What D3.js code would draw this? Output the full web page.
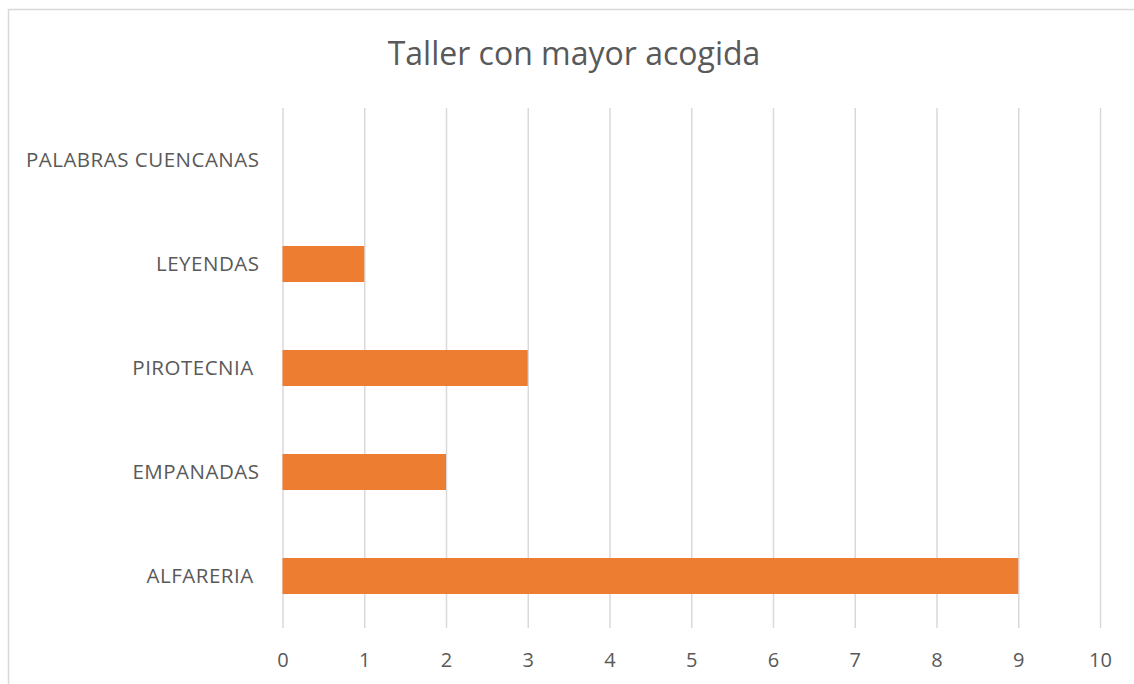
<!DOCTYPE html>
<html>
<head>
<meta charset="utf-8">
<script src="https://cdn.jsdelivr.net/npm/d3@7"></script>
<style>
  body { margin: 0; background: #fff; }
  text { font-family: "Open Sans", sans-serif; fill: #595959; }
</style>
</head>
<body>
<div id="chart"></div>
<script>
// categories top to bottom, as in the picture
const categories = ["PALABRAS CUENCANAS", "LEYENDAS", "PIROTECNIA ", "EMPANADAS", "ALFARERIA "];
const values = [0, 1, 3, 2, 9];
const xTicks = [0, 1, 2, 3, 4, 5, 6, 7, 8, 9, 10];

const width = 1134, height = 684;
const margin = {top: 108, right: 34, bottom: 56, left: 282.5};
const plotW = width - margin.left - margin.right;
const plotH = height - margin.top - margin.bottom;

const svg = d3.select("#chart").append("svg")
    .attr("width", width)
    .attr("height", height);

// chart frame
svg.append("rect")
    .attr("x", 8.5).attr("y", 9.5)
    .attr("width", 1140).attr("height", 700)
    .attr("fill", "none")
    .attr("stroke", "#d9d9d9")
    .attr("stroke-width", 1.5);

svg.append("text")
    .attr("x", 574)
    .attr("y", 65)
    .attr("text-anchor", "middle")
    .style("font-size", "32px")
    .text("Taller con mayor acogida");

const g = svg.append("g")
    .attr("transform", "translate(" + margin.left + "," + margin.top + ")");

const x = d3.scaleLinear().domain([0, 10]).range([0, plotW]);
const y = d3.scaleBand().domain(categories).range([0, plotH])
    .paddingInner(0.654).paddingOuter(0.327);

// gridlines + tick labels
const xAxis = g.append("g")
    .attr("transform", "translate(0," + plotH + ")")
    .call(d3.axisBottom(x).tickValues(xTicks).tickFormat(d3.format("d"))
        .tickSizeInner(-plotH).tickSizeOuter(0).tickPadding(25));
xAxis.select(".domain").remove();
xAxis.selectAll("line").attr("stroke", "#d9d9d9").attr("stroke-width", 1.5);
xAxis.selectAll("text").style("font-size", "20px").attr("fill", "#595959");

const yAxis = g.append("g")
    .call(d3.axisLeft(y).tickSize(0).tickPadding(23));
yAxis.select(".domain").remove();
yAxis.selectAll("text").style("font-size", "20.5px").style("letter-spacing", "0.5px")
    .style("white-space", "pre").attr("fill", "#595959");

g.selectAll(".bar")
    .data(values)
    .join("rect")
    .attr("class", "bar")
    .attr("x", 0)
    .attr("y", (d, i) => y(categories[i]))
    .attr("width", d => x(d))
    .attr("height", y.bandwidth())
    .attr("fill", "#ed7d31");
</script>
</body>
</html>
